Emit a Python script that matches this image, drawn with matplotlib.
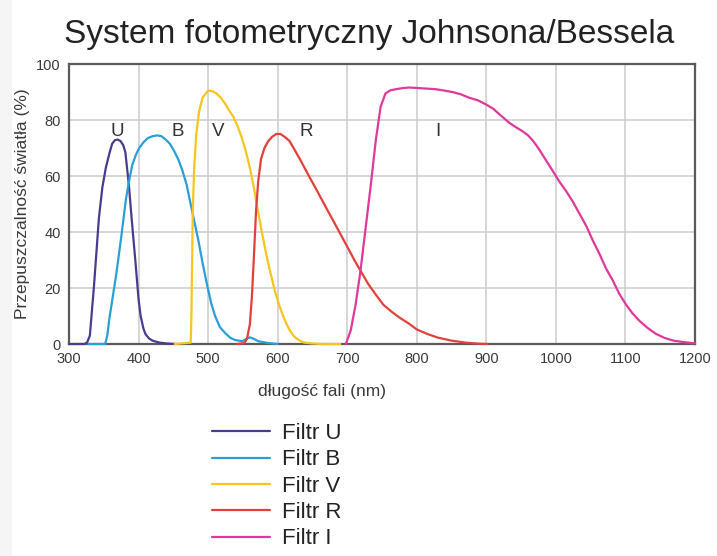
import matplotlib
matplotlib.use("Agg")
import matplotlib.pyplot as plt
from matplotlib.patches import Rectangle

plt.rcParams['font.family'] = ['Liberation Sans', 'DejaVu Sans']

# Transmission curves of the Johnson/Bessell filters (wavelength in nm, transmission in %)
u_wl = [300, 322, 326, 330, 336, 343, 348, 353, 358, 362, 366, 370, 374, 378, 381,
        386, 390, 396, 400, 403, 407, 410, 415, 420, 430, 440, 453]
u_tr = [0, 0, 0.5, 3, 21, 45, 56, 63, 68, 71.5, 72.8, 73, 72.5, 71, 68.5,
        57, 45, 28, 16, 10, 5.5, 3.5, 2, 1.2, 0.5, 0.2, 0]

b_wl = [328, 352, 355, 358, 363, 368, 375, 382, 387, 391, 396, 401, 407, 413, 420,
        427, 433, 439, 445, 451, 457, 463, 469, 474, 480, 486, 492, 498, 504, 510,
        517, 525, 532, 539, 549, 555, 560, 566, 572, 585, 600]
b_tr = [0, 0, 3, 9, 17, 25, 38, 52, 59, 64, 67.5, 70, 72, 73.5, 74.2,
        74.5, 74.2, 73, 71.5, 69, 66, 62, 57, 51, 44, 37, 29, 21.7, 15, 10,
        6, 3.8, 2.2, 1.4, 1, 1.8, 2.4, 1.8, 1, 0.4, 0]

v_wl = [452, 475, 476, 477, 478, 480, 483, 487, 492, 500, 506, 512, 518, 524, 530,
        536, 542, 548, 554, 560, 566, 572, 578, 584, 590, 596, 602, 610, 617, 624,
        631, 638, 650, 665, 690]
v_tr = [0, 0.5, 10, 30, 48, 63, 75, 83, 88, 90.5, 90.3, 89.5, 88, 86, 83.5,
        81.3, 78, 74, 69, 63, 55.5, 47, 39, 31.5, 25, 19, 14, 8.6, 5, 2.6,
        1.3, 0.5, 0.2, 0, 0]

r_wl = [541, 552, 556, 560, 563, 566, 569, 572, 576, 581, 586, 592, 598, 604, 610,
        617, 624, 632, 640, 648, 656, 664, 672, 680, 688, 696, 704, 712, 720, 730,
        740, 752, 764, 776, 788, 800, 815, 830, 850, 870, 890, 902]
r_tr = [0, 0.3, 2, 7, 17, 32, 48, 58, 66, 70, 72.3, 74, 75, 75, 74,
        72.5, 69.5, 66, 62.3, 58.6, 55, 51.3, 47.6, 44, 40.3, 36.6, 32.9, 29.2, 25.8, 21.5,
        18, 14, 11.5, 9.3, 7.4, 5.2, 3.6, 2.3, 1.2, 0.5, 0.1, 0]

i_wl = [698, 705, 712, 719, 726, 734, 741, 748, 755, 762, 770, 780, 789, 803, 815,
        827, 840, 851, 863, 875, 888, 900, 910, 919, 926, 933, 942, 952, 960, 967,
        976, 986, 995, 1005, 1015, 1024, 1034, 1044, 1053, 1063, 1072, 1082, 1091, 1101, 1110,
        1120, 1132, 1144, 1156, 1169, 1183, 1197, 1200]
i_tr = [0, 4.8, 14, 26, 40.5, 57, 72.6, 84.7, 89.5, 90.6, 91, 91.4, 91.6, 91.4, 91.2,
        91, 90.5, 90, 89.2, 88, 87, 85.5, 84, 82, 80.5, 79, 77.5, 76, 74.5, 72.6,
        69.5, 65.5, 62, 58, 54.5, 51, 46.5, 42, 37, 32, 27, 22.6, 18, 14, 11,
        8.3, 5.7, 3.6, 2.2, 1.2, 0.7, 0.3, 0.3]

filters = ['U', 'B', 'V', 'R', 'I']
legend_labels = ['Filtr U', 'Filtr B', 'Filtr V', 'Filtr R', 'Filtr I']
colors = ['#4a3b8e', '#2a9fd6', '#f7c51e', '#e2403b', '#e0389b']
curves = [(u_wl, u_tr), (b_wl, b_tr), (v_wl, v_tr), (r_wl, r_tr), (i_wl, i_tr)]

# letter labels placed above each band
label_x = [369, 456, 514, 641, 830]
label_y = [76, 76, 76, 76, 76]

x_ticks = [300, 400, 500, 600, 700, 800, 900, 1000, 1100, 1200]
y_ticks = [0, 20, 40, 60, 80, 100]

fig = plt.figure(figsize=(7.17, 5.56), dpi=100, facecolor='white')
fig.patches.append(Rectangle((0, 0), 12 / 717, 1, transform=fig.transFigure,
                             facecolor='#f5f5f5', edgecolor='none', zorder=0))

ax = fig.add_axes([69 / 717, 1 - 344 / 556, 626 / 717, 280 / 556])

lines = []
for (wl, tr), col, lab in zip(curves, colors, legend_labels):
    ln, = ax.plot(wl, tr, color=col, lw=1.6, label=lab, zorder=4, clip_on=False,
                  solid_joinstyle='round', solid_capstyle='round')
    lines.append(ln)

for name, x, y in zip(filters, label_x, label_y):
    ax.text(x, y, name, ha='center', va='center', fontsize=13.5, color='#333333')

ax.set_xlim(300, 1200)
ax.set_ylim(0, 100)
ax.set_xticks(x_ticks)
ax.set_yticks(y_ticks)
ax.grid(True, color='#cccccc', lw=1.1)
ax.set_axisbelow(True)
ax.tick_params(length=0, labelsize=10.5, labelcolor='#3a3a3a', pad=6)
for sp in ax.spines.values():
    sp.set_color('#5a5a5a')
    sp.set_linewidth(1.6)
    sp.set_zorder(3)

ax.set_xlabel('długość fali (nm)', fontsize=12.5, color='#3a3a3a')
ax.xaxis.set_label_coords(0.404, -0.171)
ax.xaxis.label.set_va('center')
ax.set_ylabel('Przepuszczalność światła (%)', fontsize=12.5, color='#3a3a3a')
ax.yaxis.set_label_coords(-0.075, 0.5)
ax.yaxis.label.set_va('center')

fig.text(369 / 717, 1 - 34 / 556, 'System fotometryczny Johnsona/Bessela',
         ha='center', va='center', fontsize=24, color='#222222')

fig.legend(handles=lines, loc='upper left', bbox_to_anchor=(212 / 717, 1 - 423 / 556),
           frameon=False, fontsize=16, handlelength=2.6, handletextpad=0.55,
           labelspacing=0.24, borderpad=0, borderaxespad=0, labelcolor='#222222')

fig.savefig('out.png', dpi=100, facecolor=fig.get_facecolor())
